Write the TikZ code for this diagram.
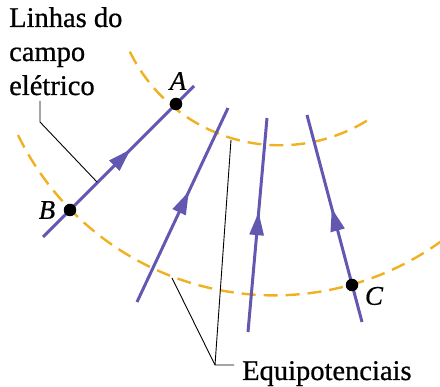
\documentclass[tikz,border=0pt]{standalone}
\usepackage{fontspec}
\setmainfont{Liberation Serif}
\newfontface\labfont[FakeBold=0.7]{Liberation Serif}
\newfontface\labitfont[FakeBold=0.5]{Liberation Serif Italic}
\usetikzlibrary{decorations.markings,arrows.meta}
\definecolor{fieldc}{RGB}{98,88,178}
\definecolor{equic}{RGB}{240,176,32}
\tikzset{
  fieldline/.style={draw=fieldc, line width=3pt,
    postaction={decorate, decoration={markings,
      mark=at position #1 with {\arrow[fieldc]{Triangle[length=23pt,width=14pt]}}}}},
  equip/.style={draw=equic, line width=2.4pt, dash pattern=on 14pt off 8pt},
  leader/.style={draw=black, line width=0.9pt},
  dotnode/.style={circle, fill=black, inner sep=0pt, minimum size=12.5pt},
  lbl/.style={inner sep=0pt, font=\labfont\fontsize{28.5}{34}\selectfont},
  ptlbl/.style={inner sep=0pt, font=\labitfont\fontsize{27}{32}\selectfont}
}
\begin{document}
\begin{tikzpicture}[x=1pt,y=-1pt]
\useasboundingbox (0,0) rectangle (440,387);
% equipotentials
\draw[equip] plot[domain=154:58, samples=80, smooth] ({279.7+166.8*cos(\x)}, {-21.5+166.8*sin(\x)});
\draw[equip] plot[domain=154.1:54.3, samples=100, smooth] ({274.1+284.7*cos(\x)}, {10.7+284.7*sin(\x)});
% field line coordinates
\coordinate (f1s) at (43,237);  \coordinate (f1e) at (194,86);
\coordinate (f2s) at (137,302); \coordinate (f2e) at (228,108);
\coordinate (f3s) at (248,332); \coordinate (f3e) at (267,118);
\coordinate (f4s) at (362,322); \coordinate (f4e) at (307,115);
\draw[fieldline=0.58] (f1s) -- (f1e);
\draw[fieldline=0.57] (f2s) -- (f2e);
\draw[fieldline=0.56] (f3s) -- (f3e);
\draw[fieldline=0.55] (f4s) -- (f4e);
% points
\node[dotnode] (A) at (176,104) {};
\node[dotnode] (B) at (70,210) {};
\node[dotnode] (C) at (352,285) {};
\node[ptlbl] (Al) at (178,81) {A};
\node[ptlbl] (Bl) at (47,210) {B};
\node[ptlbl] (Cl) at (374,296) {C};
% labels
\node[lbl, anchor=base west] (t1) at (9,27) {Linhas do};
\node[lbl, anchor=base west] (t2) at (9,61) {campo};
\node[lbl, anchor=base west] (t3) at (9,95) {elétrico};
\node[lbl, anchor=base west] (eq) at (242,380) {Equipotenciais};
% leaders
\coordinate (la) at (40,101);
\coordinate (lb) at (40,122);
\coordinate (lc) at (97,182);
\draw[leader] (la) -- (lb) -- (lc);
\coordinate (ec) at (215,365);
\coordinate (ee) at (234,365);
\coordinate (e1) at (172,278);
\coordinate (e2) at (231,140);
\draw[leader] (e1) -- (ec) -- (ee);
\draw[leader] (e2) -- (ec);
\end{tikzpicture}
\end{document}
